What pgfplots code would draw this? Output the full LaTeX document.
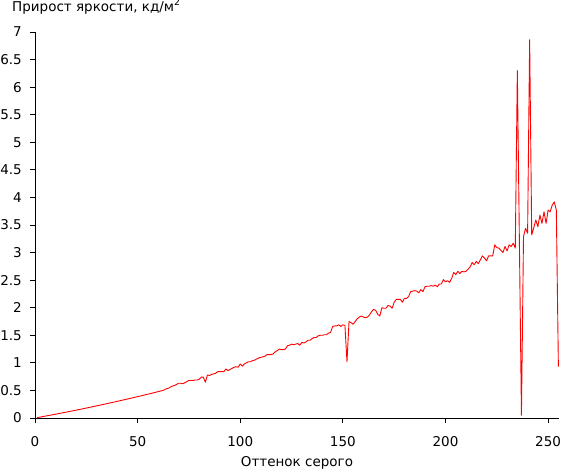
\documentclass[border=0pt]{standalone}
\usepackage{fontspec}
\setmainfont{DejaVu Sans}
\usepackage{pgfplots}
\pgfplotsset{compat=1.18}
\newcommand{\chartfont}{\fontsize{13.5pt}{16pt}\selectfont}
\begin{document}
\chartfont
\begin{tikzpicture}
\begin{axis}[
  scale only axis,
  width=524pt, height=386pt,
  xmin=0, xmax=255.3, ymin=0, ymax=7,
  axis x line=bottom, axis y line=left,
  axis line style={-, black, line width=0.8pt},
  tick style={black, line width=0.8pt},
  tick align=outside,
  major tick length=5pt,
  xtick={0,50,100,150,200,250},
  ytick={0,0.5,...,7},
  /pgf/number format/assume math mode=true,
  yticklabel style={/pgf/number format/fixed, /pgf/number format/precision=1, font=\chartfont, xshift=-3.5pt},
  xticklabel style={font=\chartfont, yshift=-9pt},
  xlabel={Оттенок серого},
  xlabel style={font=\chartfont, yshift=0pt},
  title={Прирост яркости, кд/м\textsuperscript{2}},
  title style={at={(0,1)}, anchor=base west, xshift=-23pt, yshift=15pt, font=\chartfont, inner sep=0pt},
  clip=false,
]
\addplot[red, line width=0.9pt, line join=round] coordinates {
(1,0.007)(2,0.013)(3,0.020)(4,0.027)(5,0.034)(6,0.041)(7,0.048)(8,0.055)(9,0.062)(10,0.069)
(11,0.076)(12,0.083)(13,0.091)(14,0.098)(15,0.105)(16,0.113)(17,0.120)(18,0.127)(19,0.135)(20,0.142)
(21,0.150)(22,0.157)(23,0.165)(24,0.173)(25,0.181)(26,0.188)(27,0.196)(28,0.204)(29,0.212)(30,0.220)
(31,0.228)(32,0.236)(33,0.244)(34,0.252)(35,0.260)(36,0.268)(37,0.277)(38,0.285)(39,0.293)(40,0.302)
(41,0.310)(42,0.318)(43,0.327)(44,0.335)(45,0.344)(46,0.353)(47,0.361)(48,0.370)(49,0.379)(50,0.387)
(51,0.396)(52,0.405)(53,0.414)(54,0.423)(55,0.432)(56,0.441)(57,0.450)(58,0.459)(59,0.469)(60,0.478)
(61,0.487)(62,0.497)(63,0.51)(64,0.53)(65,0.54)(66,0.56)(67,0.58)(68,0.59)(69,0.61)(70,0.63)
(71,0.63)(72,0.62)(73,0.64)(74,0.66)(75,0.68)(76,0.68)(77,0.68)(78,0.69)(79,0.69)(80,0.70)
(81,0.74)(82,0.74)(83,0.65)(84,0.78)(85,0.77)(86,0.79)(87,0.80)(88,0.81)(89,0.84)(90,0.84)
(91,0.84)(92,0.84)(93,0.89)(94,0.86)(95,0.88)(96,0.90)(97,0.92)(98,0.93)(99,0.92)(100,0.98)
(101,0.94)(102,0.98)(103,1.00)(104,1.02)(105,1.02)(106,1.04)(107,1.05)(108,1.07)(109,1.09)(110,1.10)
(111,1.11)(112,1.12)(113,1.15)(114,1.15)(115,1.15)(116,1.16)(117,1.20)(118,1.22)(119,1.25)(120,1.24)
(121,1.24)(122,1.25)(123,1.31)(124,1.32)(125,1.34)(126,1.33)(127,1.34)(128,1.35)(129,1.32)(130,1.37)
(131,1.36)(132,1.38)(133,1.41)(134,1.41)(135,1.44)(136,1.46)(137,1.46)(138,1.49)(139,1.50)(140,1.50)
(141,1.51)(142,1.51)(143,1.54)(144,1.55)(145,1.66)(146,1.67)(147,1.67)(148,1.69)(149,1.66)(150,1.69)
(151,1.68)(152,1.02)(153,1.75)(154,1.73)(155,1.70)(156,1.75)(157,1.80)(158,1.83)(159,1.85)(160,1.83)
(161,1.82)(162,1.83)(163,1.87)(164,1.93)(165,1.97)(166,1.95)(167,1.88)(168,1.85)(169,2.00)(170,1.99)
(171,1.99)(172,2.04)(173,2.03)(174,1.99)(175,2.10)(176,2.15)(177,2.15)(178,2.15)(179,2.10)(180,2.17)
(181,2.17)(182,2.20)(183,2.29)(184,2.30)(185,2.31)(186,2.30)(187,2.27)(188,2.33)(189,2.29)(190,2.38)
(191,2.39)(192,2.39)(193,2.40)(194,2.39)(195,2.41)(196,2.38)(197,2.43)(198,2.43)(199,2.51)(200,2.47)
(201,2.49)(202,2.46)(203,2.53)(204,2.64)(205,2.60)(206,2.66)(207,2.62)(208,2.66)(209,2.65)(210,2.66)
(211,2.70)(212,2.74)(213,2.82)(214,2.78)(215,2.84)(216,2.80)(217,2.87)(218,2.94)(219,2.90)(220,2.85)
(221,2.94)(222,2.94)(223,2.94)(224,3.14)(225,3.09)(226,3.08)(227,3.04)(228,3.00)(229,3.11)(230,3.03)
(231,3.14)(232,3.11)(233,3.17)(234,3.08)(235,6.30)(236,3.20)(237,0.05)(238,3.29)(239,3.44)(240,3.35)
(241,6.86)(242,3.32)(243,3.45)(244,3.59)(245,3.47)(246,3.68)(247,3.53)(248,3.74)(249,3.53)(250,3.77)
(251,3.74)(252,3.86)(253,3.92)(254,3.77)(255,0.93)
};
\end{axis}
\pgfresetboundingbox
\useasboundingbox ([shift={(-35pt,-53pt)}]current axis.south west) rectangle ([shift={(3pt,32pt)}]current axis.north east);
\end{tikzpicture}
\end{document}
